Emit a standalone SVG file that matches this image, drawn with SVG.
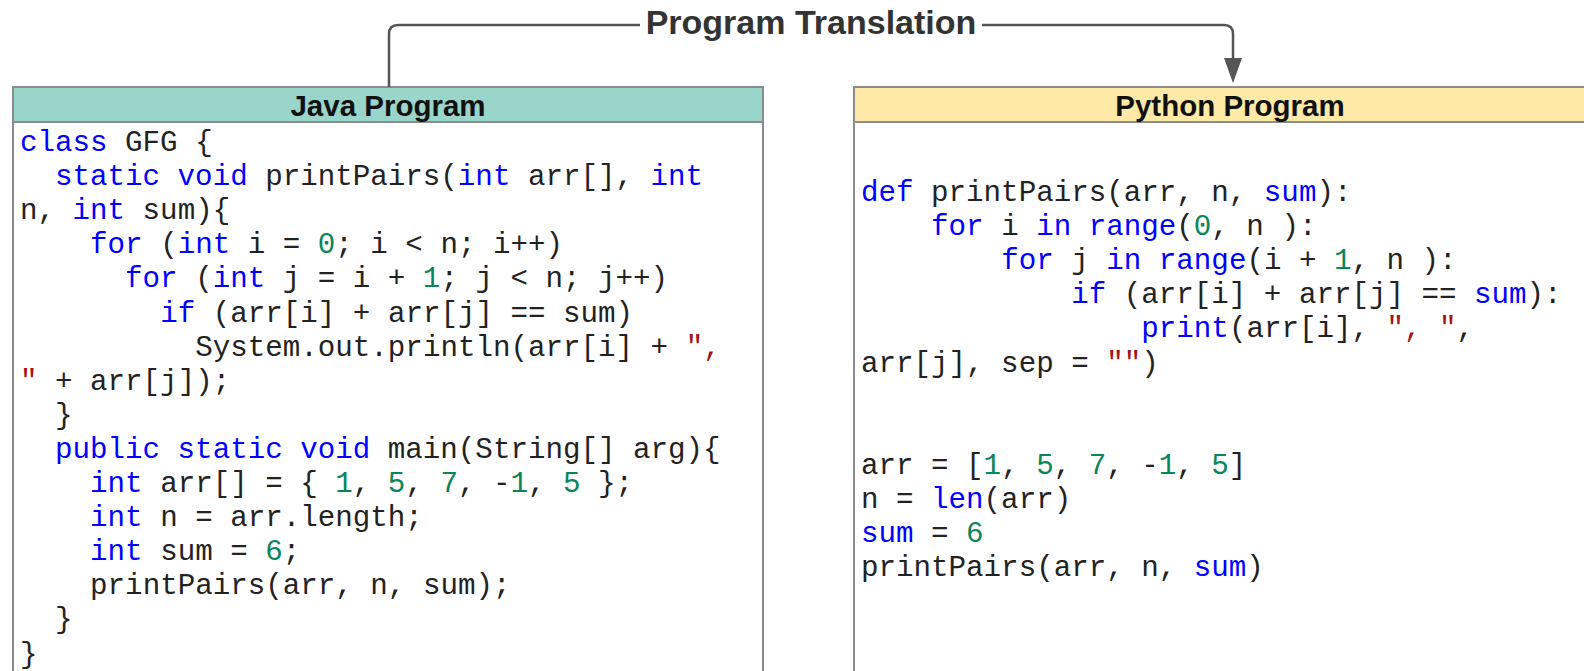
<svg xmlns="http://www.w3.org/2000/svg" width="1584" height="671" viewBox="0 0 1584 671">
<defs>
<style>
.box{fill:#ffffff;stroke:#8c8c8c;stroke-width:2}
.hdr{stroke:#8c8c8c;stroke-width:2}
.ht{font-family:"Liberation Sans",Arial,sans-serif;font-weight:bold;font-size:29.5px;fill:#111;text-anchor:middle}
.code{font-family:"Liberation Mono","DejaVu Sans Mono",monospace;font-size:29.2px;fill:#222}
.k{fill:#0000ff}
.n{fill:#098658}
.s{fill:#a31515}
.conn{fill:none;stroke:#555;stroke-width:2.5}
.lbl{font-family:"Liberation Sans",Arial,sans-serif;font-weight:bold;font-size:34px;fill:#333;text-anchor:middle}
</style>
<marker id="arr" viewBox="0 0 25 18" refX="0" refY="9" markerWidth="25" markerHeight="18" markerUnits="userSpaceOnUse" orient="auto">
<path d="M0,0 L25,9 L0,18 z" fill="#555"/>
</marker>
</defs>
<rect width="1584" height="671" fill="#ffffff"/>

<g id="java">
<rect class="box" x="13" y="87" width="750" height="620"/>
<rect class="hdr" x="13" y="87" width="750" height="35" fill="#99d5ca"/>
<text class="ht" x="388" y="116">Java Program</text>
<g class="code">
<text x="20" y="151"><tspan class="k">class</tspan> GFG {</text>
<text x="55" y="185.1"><tspan class="k">static</tspan> <tspan class="k">void</tspan> printPairs(<tspan class="k">int</tspan> arr[], <tspan class="k">int</tspan></text>
<text x="20" y="219.2">n, <tspan class="k">int</tspan> sum){</text>
<text x="90.1" y="253.3"><tspan class="k">for</tspan> (<tspan class="k">int</tspan> i = <tspan class="n">0</tspan>; i &lt; n; i++)</text>
<text x="125.1" y="287.4"><tspan class="k">for</tspan> (<tspan class="k">int</tspan> j = i + <tspan class="n">1</tspan>; j &lt; n; j++)</text>
<text x="160.2" y="321.5"><tspan class="k">if</tspan> (arr[i] + arr[j] == sum)</text>
<text x="195.2" y="355.6">System.out.println(arr[i] + <tspan class="s">",</tspan></text>
<text x="20" y="389.7"><tspan class="s">"</tspan> + arr[j]);</text>
<text x="55" y="423.8">}</text>
<text x="55" y="457.9"><tspan class="k">public</tspan> <tspan class="k">static</tspan> <tspan class="k">void</tspan> main(String[] arg){</text>
<text x="90.1" y="492"><tspan class="k">int</tspan> arr[] = { <tspan class="n">1</tspan>, <tspan class="n">5</tspan>, <tspan class="n">7</tspan>, -<tspan class="n">1</tspan>, <tspan class="n">5</tspan> };</text>
<text x="90.1" y="526.1"><tspan class="k">int</tspan> n = arr.length;</text>
<text x="90.1" y="560.2"><tspan class="k">int</tspan> sum = <tspan class="n">6</tspan>;</text>
<text x="90.1" y="594.3">printPairs(arr, n, sum);</text>
<text x="55" y="628.4">}</text>
<text x="20" y="662.5">}</text>
</g>
</g>

<g id="python">
<rect class="box" x="854" y="87" width="760" height="620"/>
<rect class="hdr" x="854" y="87" width="760" height="35" fill="#ffe9a6"/>
<text class="ht" x="1230" y="116">Python Program</text>
<g class="code">
<text x="861" y="201"><tspan class="k">def</tspan> printPairs(arr, n, <tspan class="k">sum</tspan>):</text>
<text x="931.1" y="235.1"><tspan class="k">for</tspan> i <tspan class="k">in</tspan> <tspan class="k">range</tspan>(<tspan class="n">0</tspan>, n ):</text>
<text x="1001.2" y="269.2"><tspan class="k">for</tspan> j <tspan class="k">in</tspan> <tspan class="k">range</tspan>(i + <tspan class="n">1</tspan>, n ):</text>
<text x="1071.2" y="303.3"><tspan class="k">if</tspan> (arr[i] + arr[j] == <tspan class="k">sum</tspan>):</text>
<text x="1141.3" y="337.4"><tspan class="k">print</tspan>(arr[i], <tspan class="s">", "</tspan>,</text>
<text x="861" y="371.5">arr[j], sep = <tspan class="s">""</tspan>)</text>
<text x="861" y="473.8">arr = [<tspan class="n">1</tspan>, <tspan class="n">5</tspan>, <tspan class="n">7</tspan>, -<tspan class="n">1</tspan>, <tspan class="n">5</tspan>]</text>
<text x="861" y="507.9">n = <tspan class="k">len</tspan>(arr)</text>
<text x="861" y="542"><tspan class="k">sum</tspan> = <tspan class="n">6</tspan></text>
<text x="861" y="576.1">printPairs(arr, n, <tspan class="k">sum</tspan>)</text>
</g>
</g>

<g id="connectors">
<path class="conn" d="M389,87 V34 Q389,25 398,25 H1224 Q1233,25 1233,34 V58" marker-end="url(#arr)"/>
<rect x="640" y="5" width="342" height="40" fill="#ffffff"/>
<text class="lbl" x="811" y="34">Program Translation</text>
</g>
</svg>
